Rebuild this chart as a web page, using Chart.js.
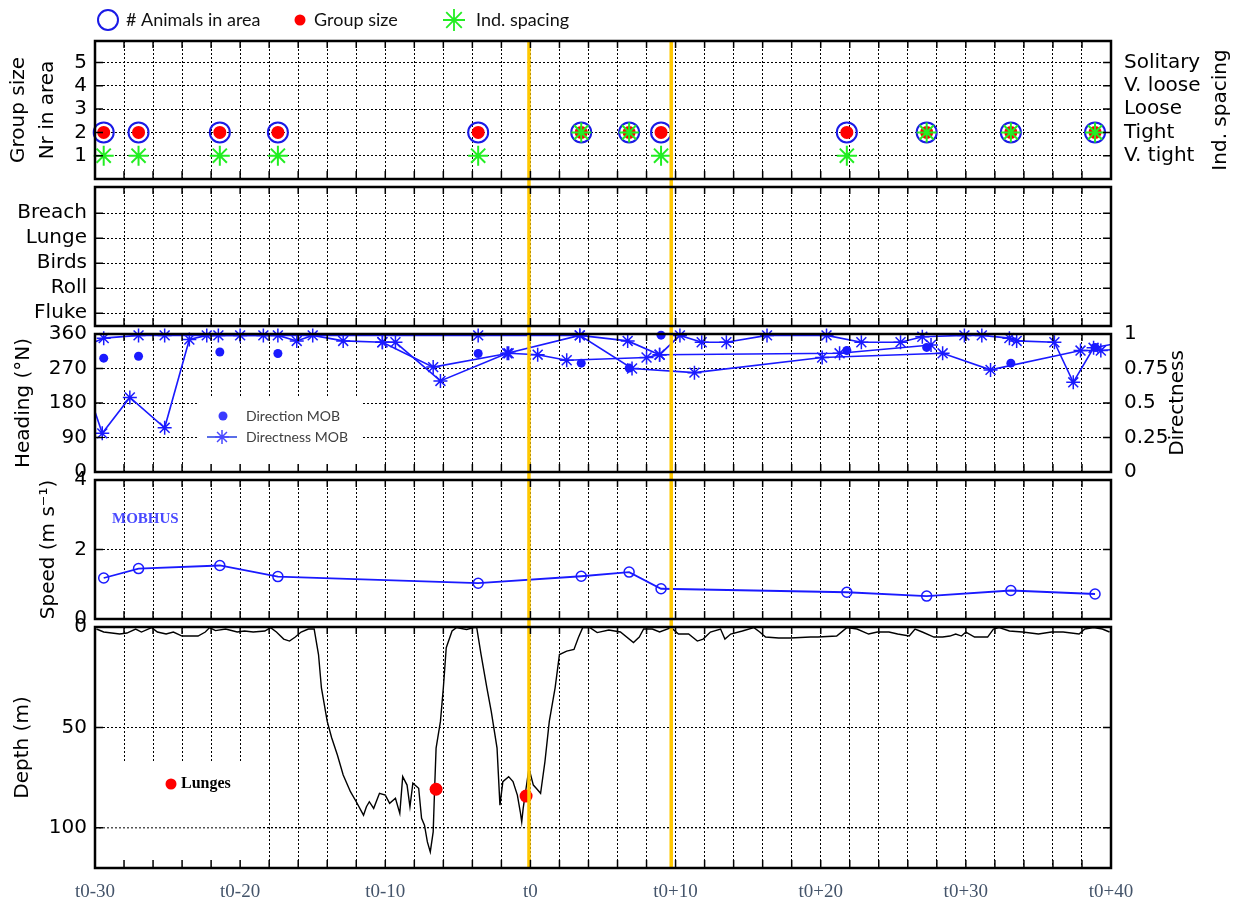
<!DOCTYPE html>
<html>
<head>
<meta charset="utf-8">
<script src="https://cdn.jsdelivr.net/npm/chart.js@4.4.1/dist/chart.umd.min.js"></script>
<style>
  html, body { margin: 0; padding: 0; background: #fff; }
  #wrap { position: relative; width: 1237px; height: 908px; overflow: hidden; }
  #wrap canvas { position: absolute; left: 0; }
</style>
</head>
<body>
<div id="wrap">
  <canvas id="cGroup" width="1237" height="193" style="top:0px"></canvas>
  <canvas id="cBehav" width="1237" height="167" style="top:173px"></canvas>
  <canvas id="cHead" width="1237" height="166" style="top:320px"></canvas>
  <canvas id="cSpeed" width="1237" height="167" style="top:466px"></canvas>
  <canvas id="cDepth" width="1237" height="295" style="top:613px"></canvas>
</div>
<script>
// ---- time axis ----
const timeTicks = [-30, -20, -10, 0, 10, 20, 30, 40];
const timeTickLabels = ['t0-30', 't0-20', 't0-10', 't0', 't0+10', 't0+20', 't0+30', 't0+40'];
const gridTimes = Array.from({length: 36}, (_, i) => -30 + 2 * i);
const eventTimes = [-0.1, 9.7];

// ---- surface observations ----
const obsTimes = [-29.4, -27.0, -21.4, -17.4, -3.6, 3.5, 6.8, 9.0, 21.8, 27.3, 33.1, 38.9];
const animalsInArea = [2, 2, 2, 2, 2, 2, 2, 2, 2, 2, 2, 2];
const groupSize = [2, 2, 2, 2, 2, 2, 2, 2, 2, 2, 2, 2];
const indSpacing = [1, 1, 1, 1, 1, 2, 2, 1, 1, 2, 2, 2];
const countTicks = [1, 2, 3, 4, 5];
const spacingLabels = ['V. tight', 'Tight', 'Loose', 'V. loose', 'Solitary'];
const behaviourLabels = ['Fluke', 'Roll', 'Birds', 'Lunge', 'Breach'];

// ---- heading / directness ----
const headingTicks = [0, 90, 180, 270, 360];
const directnessTicks = [0, 0.25, 0.5, 0.75, 1];
const directnessLabels = ['0', '0.25', '0.5', '0.75', '1'];
const directionMOB = [297, 302, 313, 309, 309, 284, 271, 357, 317, 325, 284, 325];
const directnessTimesA = [-30.2, -29.5, -27.6, -25.2, -23.5, -22.3, -21.5, -20.0, -18.4, -17.4,
  -16.1, -15.0, -12.9, -10.2, -9.3, -6.2, -1.6, 3.4, 6.7, 8.9,
  10.3, 11.8, 13.5, 16.3, 20.4, 22.8, 25.5, 27.0, 29.9, 31.1,
  33.0, 33.5, 36.1, 37.4, 38.8, 40.3];
const directnessA = [0.50, 0.28, 0.54, 0.32, 0.96, 0.99, 0.99, 0.99, 0.99, 0.99,
  0.95, 0.99, 0.95, 0.94, 0.94, 0.66, 0.86, 0.99, 0.95, 0.85,
  0.99, 0.94, 0.94, 0.99, 0.99, 0.94, 0.94, 0.98, 0.99, 0.99,
  0.97, 0.95, 0.94, 0.65, 0.90, 0.93];
const directnessTimesB = [-30.3, -29.4, -27.0, -25.2, -3.6, 3.4, 7.0, 11.3, 20.1, 28.4, 31.7, 37.9, 39.3, 40.4];
const directnessB = [0.93, 0.97, 0.99, 0.99, 0.99, 0.99, 0.75, 0.72, 0.83, 0.86, 0.74, 0.88, 0.88, 0.89];
const directnessTimesC = [-10.2, -6.7, -1.5, 0.5, 2.5, 8.0, 8.9, 21.3, 27.6];
const directnessC = [0.94, 0.76, 0.86, 0.85, 0.81, 0.83, 0.85, 0.86, 0.92];

// ---- speed ----
const speedTicks = [0, 2, 4];
const speedMOB = [1.18, 1.45, 1.54, 1.22, 1.03, 1.23, 1.35, 0.87, 0.77, 0.66, 0.82, 0.72];

// ---- depth ----
const depthTicks = [0, 50, 100];
const depthTimes = [
  -29.9, -29.4, -28.3, -27.8, -27.2, -26.8, -26.1, -25.7, -25.1, -24.6,
  -24.0, -22.9, -22.4, -22.1, -21.7, -21.0, -20.2, -19.7, -19.1, -18.3,
  -17.9, -17.5, -17.0, -16.6, -16.2, -15.8, -15.3, -14.9,
  -14.6, -14.4, -14.0, -13.7, -13.3, -12.9, -12.4, -12.0, -11.5, -11.3,
  -11.1, -10.8, -10.4, -10.0, -9.7, -9.3, -9.0, -8.8, -8.5, -8.3,
  -8.1, -7.7, -7.5, -7.3, -7.1, -6.9, -6.7, -6.6, -6.5, -6.2,
  -6.0, -5.8, -5.4, -5.1, -4.4, -3.9, -3.7,
  -3.4, -3.0, -2.7, -2.3, -2.1, -1.9, -1.5, -1.2, -0.9, -0.7,
  -0.6, -0.5, -0.3, -0.1, 0.2, 0.4, 0.7, 1.0, 1.3, 1.7,
  2.0, 2.5, 3.0, 3.3, 3.6, 4.1, 4.6, 5.4,
  6.2, 7.1, 7.5, 7.8, 8.4, 8.9, 9.7, 10.2, 10.9, 11.5,
  11.9, 12.4, 13.1, 13.4, 13.8, 14.6, 15.4, 15.8, 16.2, 17.1,
  17.9, 19.3, 19.8, 21.1, 21.8, 22.5, 23.3, 23.9, 24.7, 25.3,
  26.1, 26.5, 27.0, 27.8, 28.4, 28.9, 29.3, 29.7, 30.0, 30.6,
  31.5, 31.9, 32.3, 33.0, 33.9, 35.0, 35.9, 36.7, 37.8, 38.2,
  38.8, 39.4, 39.9];
const depthM = [
  1, 2.5, 3.5, 3, 1, 2.5, 0.3, 2.5, 3.5, 2.5,
  4.5, 4.5, 2.5, 0.3, 1.8, 1, 2.5, 2, 2.5, 2,
  0.3, 2.5, 6, 7, 5, 2.5, 1, 1,
  13.7, 30.3, 47, 55, 63.7, 73.7, 82, 87, 93.7, 89.5,
  87, 90.3, 82.8, 83.7, 87.8, 85.3, 92.8, 74.5, 78.7, 89.5,
  77.8, 80.3, 95.3, 98.7, 107, 112, 102, 80.3, 60.3, 47,
  30.3, 10.3, 2, 0.3, 1.2, 0.3, 0.3,
  13.7, 30.3, 42, 60.3, 88.7, 77, 74.5, 77, 83.7, 92,
  97, 90.3, 80.3, 70.3, 78.7, 80.3, 82.8, 67, 47, 30.3,
  13.7, 12, 11.2, 5.3, 0.3, 0.3, 2.8, 1.5,
  2.5, 7.7, 5, 1, 1, 2.5, 0.3, 3.5, 3.5, 7,
  6, 2.5, 1, 6, 3.5, 2, 0.3, 2.5, 5, 5.5,
  5.5, 5, 5, 4.5, 0.3, 1, 3.5, 2.5, 2.5, 3.5,
  4.5, 1, 2.5, 5, 5, 4.5, 3.5, 4.5, 2.5, 5,
  5, 1, 0.3, 2, 2.5, 3.5, 2.5, 2.5, 3.5, 1,
  0.3, 1, 2.5];
const lungeTimes = [-6.5, -0.3];
const lungeDepths = [80.8, 84.2];

// ---- helpers ----
const BLUE = '#1a1aff';
const tickFont = {family: 'DejaVu Sans', size: 20};

function pts(xs, ys) {
  return xs.map((x, i) => ({x: x, y: ys[i]}));
}

function timeAxis(showLabels) {
  return {
    type: 'linear', min: -30, max: 40,
    afterBuildTicks: s => { s.ticks = gridTimes.map(v => ({value: v})); },
    afterFit: s => { s.height = showLabels ? 40 : 0; },
    ticks: {
      display: showLabels, autoSkip: false, maxRotation: 0, padding: 13,
      color: '#44546a', font: {family: 'Liberation Serif', size: 19},
      callback: v => { const i = timeTicks.indexOf(v); return i < 0 ? '' : timeTickLabels[i]; }
    },
    grid: {color: '#000', lineWidth: 1, drawTicks: false},
    border: {display: false, dash: [2, 2]}
  };
}

function leftAxis(min, max, values, labels, title, titlePad, lineHeight, reverse) {
  return {
    position: 'left', min: min, max: max, reverse: !!reverse,
    afterBuildTicks: s => { s.ticks = values.map(v => ({value: v})); },
    afterFit: s => { s.width = 95; s.paddingTop = 0; s.paddingBottom = 0; },
    ticks: {color: '#000', font: tickFont, padding: 8, autoSkip: false,
      callback: (v, i) => labels[i]},
    grid: {color: '#000', lineWidth: 1, drawTicks: false},
    border: {display: false, dash: [2, 2]},
    title: title ? {
      display: true, text: title, color: '#000',
      font: {family: 'DejaVu Sans', size: 20, lineHeight: lineHeight || 1.2},
      padding: {top: titlePad, bottom: 0}
    } : {display: false}
  };
}

function rightAxis(min, max, values, labels) {
  return {
    position: 'right', min: min, max: max,
    afterBuildTicks: s => { s.ticks = values.map(v => ({value: v})); },
    afterFit: s => { s.width = 126; s.paddingTop = 0; s.paddingBottom = 0; },
    ticks: {color: '#000', font: tickFont, padding: 5, autoSkip: false,
      callback: (v, i) => labels[i]},
    grid: {display: false},
    border: {display: false}
  };
}

function asterisk(ctx, x, y, r, color, lw) {
  ctx.save();
  ctx.strokeStyle = color; ctx.lineWidth = lw;
  ctx.beginPath();
  const d = r * Math.SQRT1_2;
  ctx.moveTo(x - r, y); ctx.lineTo(x + r, y);
  ctx.moveTo(x, y - r); ctx.lineTo(x, y + r);
  ctx.moveTo(x - d, y - d); ctx.lineTo(x + d, y + d);
  ctx.moveTo(x - d, y + d); ctx.lineTo(x + d, y - d);
  ctx.stroke();
  ctx.restore();
}

function upText(ctx, text, x, y, font) {
  ctx.save();
  ctx.translate(x, y);
  ctx.rotate(-Math.PI / 2);
  ctx.font = font; ctx.fillStyle = '#000';
  ctx.textAlign = 'center'; ctx.textBaseline = 'middle';
  ctx.fillText(text, 0, 0);
  ctx.restore();
}

// frame, inward ticks, event lines, legends
function framePlugin(cfg) {
  return {
    id: 'frame',
    beforeDatasetsDraw(chart) {
      if (!cfg.box) return;
      const ctx = chart.ctx;
      ctx.save();
      ctx.translate(0, -cfg.top);
      ctx.fillStyle = '#fff';
      ctx.fillRect(cfg.box[0], cfg.box[1], cfg.box[2], cfg.box[3]);
      ctx.restore();
      if (cfg.afterBox) cfg.afterBox(chart);
    },
    afterDatasetsDraw(chart) {
      const ctx = chart.ctx, a = chart.chartArea, xs = chart.scales.x;
      ctx.save();
      ctx.strokeStyle = '#ffc800';
      ctx.lineWidth = 3.5;
      eventTimes.forEach(t => {
        const px = xs.getPixelForValue(t);
        ctx.beginPath();
        ctx.moveTo(px, a.top - cfg.ext[0]);
        ctx.lineTo(px, a.bottom + cfg.ext[1]);
        ctx.stroke();
      });
      ctx.restore();
    },
    afterDraw(chart) {
      const ctx = chart.ctx, a = chart.chartArea, xs = chart.scales.x, ys = chart.scales.y;
      ctx.save();
      ctx.strokeStyle = '#000';
      ctx.lineWidth = 1.5;
      ctx.beginPath();
      gridTimes.forEach(v => {
        const px = xs.getPixelForValue(v);
        ctx.moveTo(px, a.top); ctx.lineTo(px, a.top + 7);
        ctx.moveTo(px, a.bottom); ctx.lineTo(px, a.bottom - 8);
      });
      ys.ticks.forEach(t => {
        const py = ys.getPixelForValue(t.value);
        ctx.moveTo(a.left, py); ctx.lineTo(a.left + 8, py);
        ctx.moveTo(a.right, py); ctx.lineTo(a.right - 8, py);
      });
      ctx.stroke();
      ctx.lineWidth = 2.5;
      ctx.strokeRect(a.left, a.top, a.right - a.left, a.bottom - a.top);
      ctx.restore();
      if (cfg.extra) {
        ctx.save();
        ctx.translate(0, -cfg.top);
        cfg.extra(ctx, chart);
        ctx.restore();
      }
    }
  };
}

function baseOptions(padding, scales) {
  return {
    responsive: false, animation: false, events: [],
    layout: {padding: padding},
    plugins: {legend: {display: false}, tooltip: {enabled: false}},
    scales: scales
  };
}

// ---- panel 1: group size / spacing ----
new Chart(document.getElementById('cGroup'), {
  type: 'scatter',
  data: {
    datasets: [
      {label: '# Animals in area', data: pts(obsTimes, animalsInArea), order: 2, clip: false,
        pointStyle: 'circle', pointRadius: 10, pointBorderWidth: 2,
        pointBorderColor: '#1a1ae6', pointBackgroundColor: 'rgba(0,0,0,0)'},
      {label: 'Group size', data: pts(obsTimes, groupSize), order: 1, clip: false,
        pointStyle: 'circle', pointRadius: 6.5, pointBorderWidth: 0,
        pointBackgroundColor: '#ff0000'},
      {label: 'Ind. spacing', data: pts(obsTimes, indSpacing), order: 0, clip: false,
        pointStyle: 'star', pointRadius: 10, pointBorderWidth: 2,
        pointBorderColor: '#22ee22', pointBackgroundColor: '#22ee22'}
    ]
  },
  options: baseOptions({top: 41, bottom: 14, left: 0, right: 0}, {
    x: timeAxis(false),
    y: leftAxis(0, 5.92, countTicks, countTicks.map(String), ['Group size', 'Nr in area'], 4.5, 1.45),
    y2: rightAxis(0, 5.92, countTicks, spacingLabels)
  }),
  plugins: [framePlugin({top: 0, ext: [0, 4], extra: (ctx) => {
    ctx.font = '18px Lato';
    ctx.fillStyle = '#111';
    ctx.textBaseline = 'middle';
    ctx.strokeStyle = '#1a1ae6'; ctx.lineWidth = 2;
    ctx.beginPath(); ctx.arc(108, 20, 10, 0, Math.PI * 2); ctx.stroke();
    ctx.fillText('# Animals in area', 126, 20);
    ctx.fillStyle = '#ff0000';
    ctx.beginPath(); ctx.arc(300, 20, 5.5, 0, Math.PI * 2); ctx.fill();
    ctx.fillStyle = '#111';
    ctx.fillText('Group size', 314, 20);
    asterisk(ctx, 454, 20, 11, '#22ee22', 1.8);
    ctx.fillText('Ind. spacing', 476, 20);
    upText(ctx, 'Ind. spacing', 1221, 110, '20px "DejaVu Sans"');
  }})]
});

// ---- panel 2: behaviour ----
new Chart(document.getElementById('cBehav'), {
  type: 'scatter',
  data: {datasets: []},
  options: baseOptions({top: 14, bottom: 14, left: 0, right: 126}, {
    x: timeAxis(false),
    y: leftAxis(0.49, 6.05, countTicks, behaviourLabels, null, 0)
  }),
  plugins: [framePlugin({top: 173, ext: [4, 4]})]
});

// ---- panel 3: heading / directness ----
const directnessStyle = {
  yAxisID: 'y2', showLine: true, borderColor: BLUE, borderWidth: 1.6,
  pointStyle: 'star', pointBorderColor: BLUE, pointBorderWidth: 1.5,
  pointRadius: c => (c.raw && (c.raw.x < -30 || c.raw.x > 40)) ? 0 : 7,
  clip: {left: 0, right: 0, top: 12, bottom: 0}
};
new Chart(document.getElementById('cHead'), {
  type: 'scatter',
  data: {
    datasets: [
      {label: 'Direction MOB', data: pts(obsTimes, directionMOB), yAxisID: 'y',
        pointStyle: 'circle', pointRadius: 4.5, pointBorderWidth: 0,
        pointBackgroundColor: BLUE, clip: false},
      Object.assign({label: 'Directness MOB', data: pts(directnessTimesA, directnessA)}, directnessStyle),
      Object.assign({label: 'Directness MOB', data: pts(directnessTimesB, directnessB)}, directnessStyle),
      Object.assign({label: 'Directness MOB', data: pts(directnessTimesC, directnessC)}, directnessStyle)
    ]
  },
  options: baseOptions({top: 14, bottom: 14, left: 0, right: 0}, {
    x: timeAxis(false),
    y: leftAxis(0, 360, headingTicks, headingTicks.map(String), 'Heading (°N)', 12),
    y2: rightAxis(0, 1, directnessTicks, directnessLabels)
  }),
  plugins: [framePlugin({top: 320, ext: [4, 4], box: [197, 398, 165, 73], extra: (ctx) => {
    ctx.fillStyle = '#3b3bff';
    ctx.beginPath(); ctx.arc(223, 416, 4.5, 0, Math.PI * 2); ctx.fill();
    ctx.strokeStyle = '#5a6ee8'; ctx.lineWidth = 2;
    ctx.beginPath(); ctx.moveTo(207, 437); ctx.lineTo(237, 437); ctx.stroke();
    asterisk(ctx, 222, 437, 7, '#4a4aff', 1.5);
    ctx.font = '14px Lato';
    ctx.fillStyle = '#404040';
    ctx.textBaseline = 'middle';
    ctx.fillText('Direction MOB', 246, 416);
    ctx.fillText('Directness MOB', 246, 437);
    upText(ctx, 'Directness', 1178, 403, '20px "DejaVu Sans"');
  }})]
});

// ---- panel 4: speed ----
new Chart(document.getElementById('cSpeed'), {
  type: 'scatter',
  data: {
    datasets: [
      {label: 'Speed MOBHUS', data: pts(obsTimes, speedMOB), showLine: true,
        borderColor: BLUE, borderWidth: 1.8,
        pointStyle: 'circle', pointRadius: 5, pointBorderWidth: 1.5,
        pointBorderColor: BLUE, pointBackgroundColor: 'rgba(0,0,0,0)'}
    ]
  },
  options: baseOptions({top: 14, bottom: 14, left: 0, right: 126}, {
    x: timeAxis(false),
    y: leftAxis(0, 4, speedTicks, speedTicks.map(String), 'Speed (m s⁻¹)', 37)
  }),
  plugins: [framePlugin({top: 466, ext: [4, 4], extra: (ctx) => {
    ctx.font = 'bold 15px "Liberation Serif"';
    ctx.fillStyle = '#4a4aff';
    ctx.textBaseline = 'middle';
    ctx.fillText('MOBHUS', 112, 519);
  }})]
});

// ---- panel 5: depth ----
new Chart(document.getElementById('cDepth'), {
  type: 'scatter',
  data: {
    datasets: [
      {label: 'Lunges', data: pts(lungeTimes, lungeDepths), order: 0,
        pointStyle: 'circle', pointRadius: 6.5, pointBorderWidth: 0,
        pointBackgroundColor: '#ff0000'},
      {label: 'Depth', data: pts(depthTimes, depthM), order: 1, showLine: true,
        borderColor: '#000', borderWidth: 1.4, pointRadius: 0}
    ]
  },
  options: baseOptions({top: 14, bottom: 0, left: 0, right: 126}, {
    x: timeAxis(true),
    y: leftAxis(0, 120, depthTicks, depthTicks.map(String), 'Depth (m)', 11, 1.2, true)
  }),
  plugins: [framePlugin({top: 613, ext: [4, 0], box: [96, 762, 162, 105],
    afterBox: (chart) => {
      // the 100 m grid line stays visible through the legend box
      const ctx = chart.ctx, ys = chart.scales.y, a = chart.chartArea;
      const py = ys.getPixelForValue(100);
      ctx.save();
      ctx.strokeStyle = '#000'; ctx.lineWidth = 1; ctx.setLineDash([2, 2]);
      ctx.beginPath(); ctx.moveTo(a.left, py); ctx.lineTo(a.right, py); ctx.stroke();
      ctx.restore();
    },
    extra: (ctx) => {
      ctx.fillStyle = '#ff0000';
      ctx.beginPath(); ctx.arc(171, 784, 5.5, 0, Math.PI * 2); ctx.fill();
      ctx.font = 'bold 16px "Liberation Serif"';
      ctx.fillStyle = '#000';
      ctx.textBaseline = 'middle';
      ctx.fillText('Lunges', 181, 784);
    }})]
});
</script>
</body>
</html>
